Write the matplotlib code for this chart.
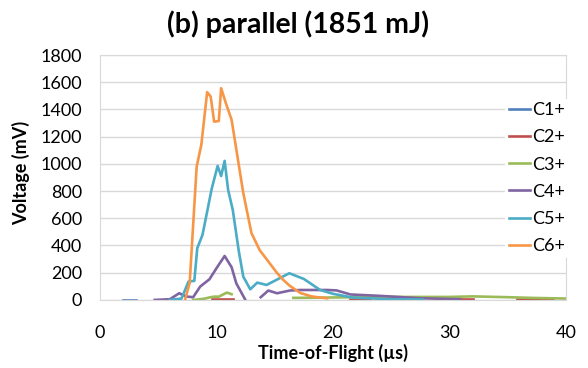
import numpy as np
import matplotlib.pyplot as plt

plt.rcParams['font.family'] = ['Lato', 'DejaVu Sans']

nan = np.nan

# Time-of-flight (us) and voltage (mV) per charge state, NaN marks a gap
c1_t = [2.0, 3.1]
c1_v = [3, 3]

c2_t = [9.6, 11.4, nan, 21.5, 23.2, nan, 30.9, 32.0, nan, 35.8, 38.9]
c2_v = [8, 8, nan, 5, 5, nan, 5, 5, nan, 7, 7]

c3_t = [8.0, 8.6, 9.0, 9.5, 9.8, 10.2, 10.5, 10.9, 11.3, nan,
        16.6, 18, 20, 22, 25, 28, 30, 32, 33, 35, 37, 40]
c3_v = [0, 5, 10, 20, 24, 24, 37, 54, 42, nan,
        15, 16, 18, 20, 22, 22, 22, 26, 24, 20, 15, 10]

c4_t = [4.7, 6.0, 6.8, 7.4, 8.0, 8.6, 9.4, 10.0, 10.7, 11.3, 11.7, 12.45, nan,
        13.8, 14.45, 15.2, 16.3, 17.2, 19.5, 20.3, 21.5, 24.0, 27.5, 30.9]
c4_v = [0, 5, 49, 25, 20, 98, 152, 233, 323, 240, 122, 5, nan,
        20, 69, 49, 69, 73, 73, 70, 40, 30, 12, 5]

c5_t = [6.0, 7.0, 7.6, 8.1, 8.35, 8.8, 9.6, 10.1, 10.4, 10.7, 11.0, 11.4, 11.9,
        12.3, 12.9, 13.5, 14.3, 16.25, 17.5, 18.9, 20.0, 21.7, 24.9, 27.7]
c5_v = [0, 10, 135, 140, 380, 478, 820, 985, 911, 1022, 808, 661, 367,
        171, 78, 127, 110, 196, 154, 73, 45, 17, 5, 3]

c6_t = [7.3, 7.7, 8.3, 8.7, 9.2, 9.5, 9.8, 10.2, 10.4, 10.8, 11.3, 12.3, 13.0,
        13.7, 15.2, 15.7, 16.3, 17.2, 18.2, 19.5]
c6_v = [0, 125, 980, 1140, 1527, 1495, 1310, 1315, 1556, 1448, 1323, 786, 492,
        367, 198, 150, 103, 51, 25, 12]

series = [
    ("C1+", c1_t, c1_v, "#4F81BD"),
    ("C2+", c2_t, c2_v, "#C0504D"),
    ("C3+", c3_t, c3_v, "#9BBB59"),
    ("C4+", c4_t, c4_v, "#8064A2"),
    ("C5+", c5_t, c5_v, "#4BACC6"),
    ("C6+", c6_t, c6_v, "#F79646"),
]

fig = plt.figure(figsize=(5.88, 3.68), dpi=100)
ax = fig.add_axes([0.170, 0.185, 0.7926, 0.6655])

for name, t, v, col in series:
    ax.plot(t, v, color=col, lw=1.9, label=name, solid_joinstyle="round")

ax.set_xlim(0, 40)
ax.set_ylim(0, 1800)
ax.set_xticks(range(0, 41, 10))
ax.set_yticks(range(0, 1801, 200))
ax.grid(axis="y", color="#d9d9d9", lw=1)
ax.set_axisbelow(True)
for s in ax.spines.values():
    s.set_color("#d9d9d9")
ax.tick_params(length=0, labelsize=13)
ax.tick_params(axis="y", pad=13)
ax.tick_params(axis="x", pad=18)

ax.set_xlabel("Time-of-Flight (µs)", fontsize=13, fontweight="bold", labelpad=2)
ax.set_ylabel("Voltage (mV)", fontsize=13, fontweight="bold", va="center")
ax.yaxis.set_label_coords(-0.17, 0.52)
fig.text(0.507, 0.935, "(b) parallel (1851 mJ)", fontsize=20.5,
         fontweight="bold", ha="center", va="center")

leg = ax.legend(loc="upper left", bbox_to_anchor=(0.8595, 0.7323),
                bbox_transform=fig.transFigure, frameon=True,
                fontsize=13, handlelength=1.16, handletextpad=0.12,
                labelspacing=0.62, borderpad=0.2, borderaxespad=0)
leg.get_frame().set_edgecolor("none")
leg.get_frame().set_facecolor("white")
leg.get_frame().set_alpha(1)

fig.savefig("out.png", dpi=100)
